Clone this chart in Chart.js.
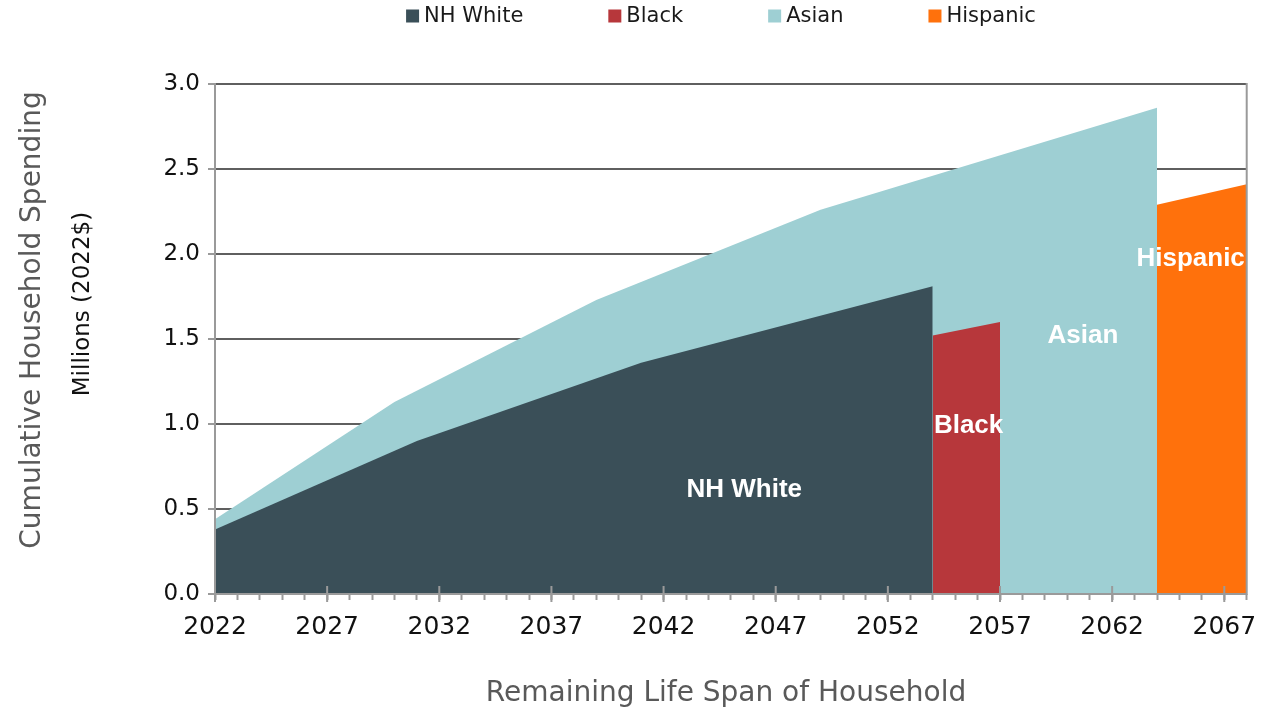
<!DOCTYPE html>
<html>
<head>
<meta charset="utf-8">
<script src="https://cdn.jsdelivr.net/npm/chart.js@4.4.1/dist/chart.umd.min.js"></script>
<style>
  html, body { margin: 0; padding: 0; background: #fff; }
  #wrap { width: 1278px; height: 711px; }
</style>
</head>
<body>
<div id="wrap"><canvas id="spendChart"></canvas></div>
<script>
'use strict';

// series, back to front order is handled by Chart.js (index 0 ends up on top)
const seriesNames = ['NH White', 'Black', 'Asian', 'Hispanic'];
const seriesColors = ['#3a4f58', '#b7373b', '#9ecfd3', '#ff710c'];

const whiteYears = [2022, 2031, 2041, 2054];
const whiteValues = [0.38, 0.90, 1.36, 1.81];

const blackYears = [2054, 2057];
const blackValues = [1.52, 1.60];

const asianYears = [2022, 2030, 2039, 2049, 2064];
const asianValues = [0.44, 1.13, 1.73, 2.26, 2.86];

const hispanicYears = [2064, 2068];
const hispanicValues = [2.29, 2.41];

const xTickYears = [2022, 2027, 2032, 2037, 2042, 2047, 2052, 2057, 2062, 2067];
const yTickValues = [0, 0.5, 1.0, 1.5, 2.0, 2.5, 3.0];

const FONT = '"DejaVu Sans", sans-serif';

const toPoints = (xs, ys) => xs.map((v, i) => ({x: v, y: ys[i]}));
const allSeries = [
  toPoints(whiteYears, whiteValues),
  toPoints(blackYears, blackValues),
  toPoints(asianYears, asianValues),
  toPoints(hispanicYears, hispanicValues),
];

// where the white names sit inside the areas (year, value)
const labelSpots = [
  ['NH White', 2045.6, 0.61],
  ['Black', 2055.6, 0.99],
  ['Asian', 2060.7, 1.52],
  ['Hispanic', 2065.5, 1.97],
];

const extras = {
  id: 'extras',
  afterDatasetsDraw(chart) {
    const {ctx, chartArea: a, scales: {x, y}} = chart;
    ctx.save();
    ctx.strokeStyle = '#9a9a9a';
    ctx.lineWidth = 2;
    ctx.beginPath();
    ctx.moveTo(a.left, a.top - 1);
    ctx.lineTo(a.left, a.bottom + 1);
    ctx.moveTo(a.right, a.top - 1);
    ctx.lineTo(a.right, a.bottom + 1);
    ctx.moveTo(a.left - 7, a.bottom);
    ctx.lineTo(a.right, a.bottom);
    xTickYears.forEach(yr => {
      const px = x.getPixelForValue(yr);
      ctx.moveTo(px, a.bottom - 8);
      ctx.lineTo(px, a.bottom + 8);
    });
    ctx.stroke();

    ctx.fillStyle = '#ffffff';
    ctx.font = 'bold 26px "Liberation Sans", Arial, sans-serif';
    ctx.textAlign = 'center';
    ctx.textBaseline = 'middle';
    labelSpots.forEach(([txt, yr, val]) => {
      ctx.fillText(txt, x.getPixelForValue(yr), y.getPixelForValue(val));
    });
    ctx.restore();
  },
  afterDraw(chart) {
    const {ctx} = chart;
    ctx.save();
    // axis titles
    ctx.fillStyle = '#595959';
    ctx.textAlign = 'center';
    ctx.textBaseline = 'middle';
    ctx.font = '28px ' + FONT;
    ctx.fillText('Remaining Life Span of Household', 726, 694);
    ctx.save();
    ctx.translate(33, 320);
    ctx.rotate(-Math.PI / 2);
    ctx.fillText('Cumulative Household Spending', 0, 0);
    ctx.restore();
    ctx.save();
    ctx.fillStyle = '#111';
    ctx.font = '23px ' + FONT;
    ctx.translate(83, 304);
    ctx.rotate(-Math.PI / 2);
    ctx.fillText('Millions (2022$)', 0, 0);
    ctx.restore();

    // legend
    ctx.font = '21px ' + FONT;
    ctx.textAlign = 'left';
    const box = 13, gapText = 5, gapItem = 85;
    const widths = seriesNames.map(n => box + gapText + ctx.measureText(n).width);
    const total = widths.reduce((s, w) => s + w, 0) + gapItem * (widths.length - 1);
    let cx = 721 - total / 2;
    const cy = 16;
    seriesNames.forEach((n, i) => {
      ctx.fillStyle = seriesColors[i];
      ctx.fillRect(cx, cy - box / 2, box, box);
      ctx.fillStyle = '#1a1a1a';
      ctx.fillText(n, cx + box + gapText, cy + 1);
      cx += widths[i] + gapItem;
    });
    ctx.restore();
  }
};

new Chart(document.getElementById('spendChart'), {
  type: 'line',
  data: {
    datasets: seriesNames.map((name, i) => ({
      label: name,
      data: allSeries[i],
      backgroundColor: seriesColors[i],
      borderColor: seriesColors[i],
      borderWidth: 0,
      pointRadius: 0,
      pointHoverRadius: 0,
      tension: 0,
      fill: 'origin',
    }))
  },
  options: {
    responsive: true,
    maintainAspectRatio: false,
    animation: false,
    layout: {
      // right edge picked so the 2064 edge falls on a whole pixel (no seam)
      padding: {top: 84, right: 31.285714, left: 0, bottom: 0}
    },
    plugins: {
      legend: {display: false},
      tooltip: {enabled: false},
    },
    scales: {
      x: {
        type: 'linear',
        min: 2022,
        max: 2068,
        afterFit(scale) { scale.height = 117; },
        border: {display: false},
        grid: {
          drawOnChartArea: false,
          drawTicks: true,
          tickLength: 6,
          tickColor: '#9a9a9a',
          tickWidth: 2,
        },
        ticks: {
          stepSize: 1,
          autoSkip: false,
          maxRotation: 0,
          padding: 12,
          color: '#111',
          font: {family: '"DejaVu Sans", sans-serif', size: 25},
          callback: v => xTickYears.includes(v) ? String(v) : '',
        }
      },
      y: {
        min: 0,
        max: 3,
        afterFit(scale) { scale.width = 215; },
        afterBuildTicks(scale) { scale.ticks = yTickValues.map(v => ({value: v})); },
        border: {display: false},
        grid: {
          color: ctx => ctx.tick && ctx.tick.value === 0 ? '#9a9a9a' : '#5f5f5f',
          lineWidth: 2,
          tickLength: 7,
          tickColor: '#9a9a9a',
        },
        ticks: {
          padding: 8,
          color: '#111',
          font: {family: '"DejaVu Sans", sans-serif', size: 23},
          callback: v => v.toFixed(1),
        }
      }
    }
  },
  plugins: [extras]
});
</script>
</body>
</html>
